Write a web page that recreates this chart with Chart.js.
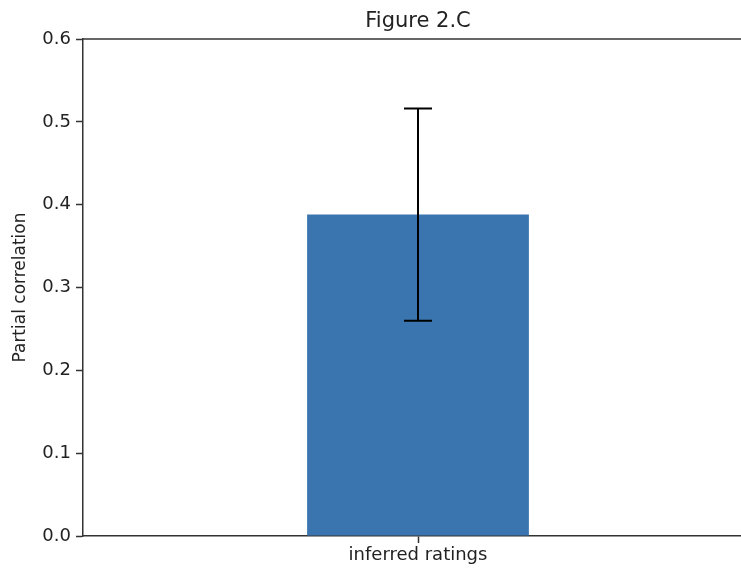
<!DOCTYPE html>
<html>
<head>
<meta charset="utf-8">
<script src="https://cdn.jsdelivr.net/npm/chart.js@4/dist/chart.umd.min.js"></script>
<style>
  html, body { margin: 0; padding: 0; background: #fff; overflow: hidden; }
  #wrap { width: 741px; height: 571px; overflow: hidden; }
  canvas { display: block; }
</style>
</head>
<body>
<div id="wrap"><canvas id="c" width="760" height="571"></canvas></div>
<script>
// Data
const categories = ['inferred ratings'];
const correlations = [0.388];
const errors = [0.128];
const yTicks = [0.0, 0.1, 0.2, 0.3, 0.4, 0.5, 0.6];

const FONT = "'DejaVu Sans', sans-serif";
const AXIS_COLOR = '#333';
const TEXT_COLOR = '#222';

// Error bars with caps, drawn from the y scale
const errorBars = {
  id: 'errorBars',
  afterDatasetsDraw(chart) {
    const { ctx, scales: { y } } = chart;
    const meta = chart.getDatasetMeta(0);
    ctx.save();
    ctx.strokeStyle = '#000';
    ctx.lineWidth = 2;
    meta.data.forEach((bar, i) => {
      const v = correlations[i], e = errors[i];
      const top = y.getPixelForValue(v + e);
      const bot = y.getPixelForValue(v - e);
      const cap = 14;
      ctx.beginPath();
      ctx.moveTo(bar.x, top); ctx.lineTo(bar.x, bot);
      ctx.moveTo(bar.x - cap, top); ctx.lineTo(bar.x + cap, top);
      ctx.moveTo(bar.x - cap, bot); ctx.lineTo(bar.x + cap, bot);
      ctx.stroke();
    });
    ctx.restore();
  }
};

// Top spine and centred title
const frame = {
  id: 'frame',
  afterDraw(chart) {
    const { ctx, chartArea: a } = chart;
    ctx.save();
    ctx.strokeStyle = AXIS_COLOR;
    ctx.lineWidth = 1.5;
    ctx.beginPath();
    ctx.moveTo(a.left, a.top); ctx.lineTo(a.right, a.top);
    ctx.stroke();
    ctx.fillStyle = TEXT_COLOR;
    ctx.font = '21px ' + FONT;
    ctx.textAlign = 'center';
    ctx.textBaseline = 'alphabetic';
    ctx.fillText('Figure 2.C', (a.left + a.right) / 2, 27);
    ctx.restore();
  }
};

new Chart(document.getElementById('c'), {
  type: 'bar',
  data: {
    labels: categories,
    datasets: [{
      data: correlations,
      backgroundColor: 'rgb(58,117,175)',
      borderWidth: 0,
      categoryPercentage: 1,
      barPercentage: 0.331
    }]
  },
  options: {
    responsive: false,
    animation: false,
    devicePixelRatio: 1,
    layout: { padding: { left: 0, top: 39, right: 7, bottom: 0 } },
    plugins: { legend: { display: false }, tooltip: { enabled: false }, title: { display: false } },
    scales: {
      x: {
        offset: true,
        grid: { offset: false, drawOnChartArea: false, drawTicks: true, tickLength: 7, tickColor: AXIS_COLOR, tickWidth: 1.5 },
        border: { color: AXIS_COLOR, width: 1.5 },
        ticks: { color: TEXT_COLOR, font: { family: FONT, size: 18 }, padding: 2 },
        afterFit(s) { s.height = 35; }
      },
      y: {
        min: 0, max: 0.6,
        afterBuildTicks(s) { s.ticks = yTicks.map(v => ({ value: v })); },
        grid: { drawOnChartArea: false, drawTicks: true, tickLength: 7, tickColor: AXIS_COLOR, tickWidth: 1.5 },
        border: { color: AXIS_COLOR, width: 1.5 },
        ticks: { color: TEXT_COLOR, font: { family: FONT, size: 18 }, padding: 5, callback: v => v.toFixed(1) },
        title: { display: true, text: 'Partial correlation', color: TEXT_COLOR, font: { family: FONT, size: 17 }, padding: { top: 10, bottom: 0 } },
        afterFit(s) { s.width = 83; }
      }
    }
  },
  plugins: [errorBars, frame]
});
</script>
</body>
</html>
